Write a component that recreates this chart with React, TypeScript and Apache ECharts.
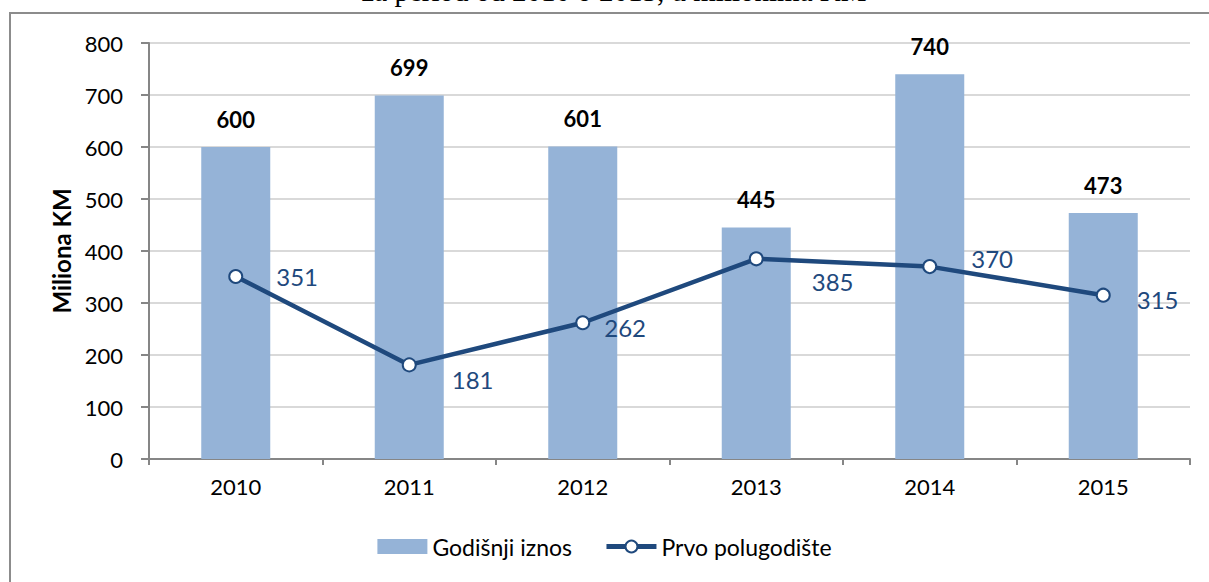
import React, { useEffect, useRef } from "react";
import * as echarts from "echarts";

const categories = ["2010", "2011", "2012", "2013", "2014", "2015"];
const annualValues = [600, 699, 601, 445, 740, 473];
const firstHalfValues = [351, 181, 262, 385, 370, 315];
const firstHalfLabelOffsets: [number, number][] = [
  [28, 0],
  [30, 15],
  [9, 5],
  [43, 23],
  [29, -8],
  [21, 4],
];
const yTicks = { min: 0, max: 800, interval: 100 };
const seriesNames = ["Godišnji iznos", "Prvo polugodište"];
const yAxisName = "Miliona KM";
const titleText = "za period od 2010 o 2015, u milionima KM";

const FONT = "Lato, 'Open Sans', sans-serif";
const BAR_COLOR = "#95B3D7";
const LINE_COLOR = "#1F497D";

export default function App() {
  const ref = useRef<HTMLDivElement>(null);
  useEffect(() => {
    document.body.style.margin = "0";
    const chart = echarts.init(ref.current!, null, { renderer: "svg" });
    chart.setOption({
      animation: false,
      backgroundColor: "#ffffff",
      textStyle: { fontFamily: FONT },
      graphic: [
        {
          type: "rect",
          shape: { x: 10, y: 13, width: 1300, height: 700 },
          style: { fill: "none", stroke: "#8c8c8c", lineWidth: 2 },
          silent: true,
        },
        {
          type: "text",
          x: 614,
          y: 5,
          style: {
            text: titleText,
            font: "29px 'Liberation Serif', 'Times New Roman', serif",
            fill: "#000",
            textAlign: "center",
            textVerticalAlign: "bottom",
          },
        },
      ],
      legend: {
        bottom: 19,
        left: "center",
        itemWidth: 50,
        itemHeight: 15,
        itemGap: 32,
        textStyle: { fontSize: 23, color: "#000", fontFamily: FONT },
        data: [
          { name: seriesNames[0], icon: "rect" },
          { name: seriesNames[1], lineStyle: { width: 5, color: LINE_COLOR } },
        ],
      },
      grid: { left: 149, right: 19, top: 43, bottom: 123, containLabel: false },
      xAxis: {
        type: "category",
        data: categories,
        axisLine: { lineStyle: { color: "#868686", width: 2 } },
        axisTick: { show: true, length: 6, lineStyle: { color: "#868686", width: 2 } },
        axisLabel: { fontSize: 22, color: "#000", margin: 16, fontFamily: FONT },
      },
      yAxis: {
        type: "value",
        min: yTicks.min,
        max: yTicks.max,
        interval: yTicks.interval,
        name: yAxisName,
        nameLocation: "middle",
        nameGap: 75,
        nameRotate: 90,
        nameTextStyle: { fontSize: 24, fontWeight: "bold", color: "#000", fontFamily: FONT },
        axisLine: { show: true, lineStyle: { color: "#868686", width: 2 } },
        axisTick: { show: true, length: 8, lineStyle: { color: "#868686", width: 2 } },
        axisLabel: { fontSize: 22, color: "#000", margin: 26, fontFamily: FONT },
        splitLine: { lineStyle: { color: "#d9d9d9", width: 2 } },
      },
      series: [
        {
          name: seriesNames[0],
          type: "bar",
          data: annualValues,
          barWidth: 69,
          itemStyle: { color: BAR_COLOR },
          label: {
            show: true,
            position: "top",
            distance: 17,
            fontSize: 22,
            fontWeight: "bold",
            color: "#000",
            fontFamily: FONT,
          },
        },
        {
          name: seriesNames[1],
          type: "line",
          data: firstHalfValues.map((v, i) => ({
            value: v,
            label: { offset: firstHalfLabelOffsets[i] },
          })),
          symbol: "circle",
          symbolSize: 13,
          lineStyle: { color: LINE_COLOR, width: 4.5 },
          itemStyle: { color: "#ffffff", borderColor: LINE_COLOR, borderWidth: 2 },
          label: {
            show: true,
            position: "right",
            distance: 5,
            fontSize: 24,
            color: LINE_COLOR,
            fontFamily: FONT,
          },
          z: 3,
        },
      ],
    });
    return () => chart.dispose();
  }, []);
  return <div ref={ref} style={{ width: 1209, height: 582 }} />;
}
